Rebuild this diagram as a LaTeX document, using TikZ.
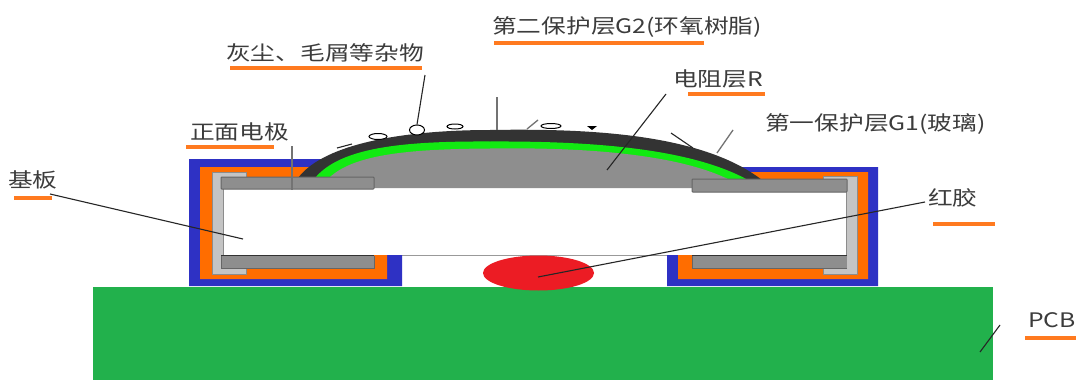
\documentclass[tikz,border=0pt]{standalone}
\usepackage{graphicx}
\usepackage{fontspec}
\usetikzlibrary{shapes.geometric}
\setmainfont{Noto Sans CJK SC}
\definecolor{pcbgreen}{HTML}{22B14C}
\definecolor{bluecap}{HTML}{2E31C4}
\definecolor{orangein}{HTML}{FF6D00}
\definecolor{lightg}{HTML}{C4C4C4}
\definecolor{midg}{HTML}{8E8E8E}
\definecolor{glass}{HTML}{12EA12}
\definecolor{epoxy}{HTML}{333333}
\definecolor{glue}{HTML}{EC1C24}
\definecolor{uline}{HTML}{FF7A1F}
\definecolor{txt}{HTML}{3C3C3C}
\newcommand\widetxt[1]{\scalebox{1.235}[1]{#1}}
\tikzset{
  lbl/.style={anchor=west,inner sep=0pt,text=txt,font=\fontsize{20}{20}\selectfont},
  under/.style={draw=uline,line width=3.6pt},
  leader/.style={draw=black!85,line width=1.1pt},
  leadg/.style={draw=black!55,line width=1.3pt},
  metal/.style={fill=midg,draw=black!60,line width=1pt,rounded corners=0.8pt},
  silver/.style={fill=lightg,draw=black!45,line width=0.8pt},
  dust/.style={ellipse,draw=black,fill=white,line width=1pt,inner sep=0pt},
}
\begin{document}
\begin{tikzpicture}[x=1pt,y=-1pt]
\useasboundingbox (0,0) rectangle (1076,380);
\fill[white] (0,0) rectangle (1076,380);
% PCB
\fill[pcbgreen] (93,287) rectangle (993,380);
% substrate
\fill[white] (223,188) rectangle (847,255);
\draw[black!40,line width=1pt] (387,255.5) -- (680,255.5);
% left cap
\fill[bluecap] (189,159) -- (335,159) -- (335,185) -- (223,185) -- (223,255) -- (402,255) -- (402,286) -- (189,286) -- cycle;
\fill[orangein] (200,167) -- (335,167) -- (335,185) -- (223,185) -- (223,255) -- (387,255) -- (387,279) -- (200,279) -- cycle;
\draw[silver] (246,172) -- (212,172) -- (212,274) -- (246,274) -- (246,266) -- (223,266) -- (223,178) -- (246,178) -- cycle;
% right cap
\fill[bluecap] (740,167) -- (878,167) -- (878,286) -- (667,286) -- (667,255) -- (847,255) -- (847,187) -- (740,187) -- cycle;
\fill[orangein] (740,172) -- (868,172) -- (868,279) -- (678,279) -- (678,255) -- (847,255) -- (847,187) -- (740,187) -- cycle;
\draw[silver] (823,176) -- (857,176) -- (857,274) -- (823,274) -- (823,268) -- (846,268) -- (846,182) -- (823,182) -- cycle;
% dome
\fill[epoxy] (298,178) .. controls (325,142) and (410,130) .. (490,130) .. controls (600,128) and (705,136) .. (762,180) -- cycle;
\fill[glass] (315,178) .. controls (340,148) and (400,141) .. (490,141.5) .. controls (590,141) and (690,148) .. (748,180) -- cycle;
\fill[midg] (327,180) .. controls (350,155) and (405,149) .. (490,148.5) .. controls (590,147) and (680,155) .. (730,180) -- (730,188) -- (327,188) -- cycle;
% electrodes
\draw[metal] (221,177) rectangle (374,189);
\draw[metal] (692,179) rectangle (847,192);
\fill[midg] (221,256) rectangle (374,268);
\draw[black!60,line width=1pt] (221,256) -- (221,268) -- (374,268) -- (374,256);
\draw[black!80,line width=1.3pt] (221,255.5) -- (374,255.5);
\fill[midg] (692,256) rectangle (847,268);
\draw[black!60,line width=1pt] (847,268) -- (692,268) -- (692,256);
\draw[black!80,line width=1.3pt] (692,255.5) -- (847,255.5);
% glue
\node[ellipse,fill=glue,minimum width=111pt,minimum height=35pt,inner sep=0pt] (redglue) at (538.5,273) {};
% debris
\node[dust,minimum width=15pt,minimum height=10pt] (d1) at (417,130) {};
\node[dust,minimum width=18pt,minimum height=6pt] (d2) at (378,136.5) {};
\node[dust,minimum width=16pt,minimum height=5pt] (d3) at (455,126.5) {};
\node[dust,minimum width=20pt,minimum height=5pt] (d4) at (551,126) {};
\fill[black] (587,126) -- (597,126) -- (592,130) -- cycle;
\coordinate (s1a) at (337,148); \coordinate (s1b) at (352,144);
\draw[leader] (s1a) -- (s1b);
\coordinate (s2a) at (527,129); \coordinate (s2b) at (538,120);
\draw[leadg] (s2a) -- (s2b);
\coordinate (s3a) at (671,133); \coordinate (s3b) at (693,148);
\draw[leader] (s3a) -- (s3b);
% labels
\node[lbl] (tdust) at (226,53) {\widetxt{灰尘、毛屑等杂物}};
\node[lbl] (tg2) at (492,27) {\widetxt{第二保护层G2(环氧树脂)}};
\node[lbl] (tr) at (673,79) {\widetxt{电阻层R}};
\node[lbl] (tg1) at (765,124) {\widetxt{第一保护层G1(玻璃)}};
\node[lbl] (telec) at (190,132) {\widetxt{正面电极}};
\node[lbl] (tsub) at (8,180) {\widetxt{基板}};
\node[lbl] (tglue) at (928,198) {\widetxt{红胶}};
\node[lbl] (tpcb) at (1028,320) {\widetxt{PCB}};
% underlines
\draw[under] (230,68) -- (422,68);
\draw[under] (494,43) -- (704,43);
\draw[under] (688,94) -- (765,94);
\draw[under] (186,147) -- (274,147);
\draw[under] (14,198) -- (52,198);
\draw[under] (933,224) -- (995,224);
\draw[under] (1025,338) -- (1076,338);
% leaders
\coordinate (lsubA) at (50,194); \coordinate (lsubB) at (243,239);
\draw[leader] (lsubA) -- (lsubB);
\coordinate (ldustA) at (425,75);
\draw[leader] (ldustA) -- (d1.north);
\coordinate (lg2A) at (497,97); \coordinate (lg2B) at (497,130);
\draw[leadg] (lg2A) -- (lg2B);
\coordinate (lrA) at (666,94); \coordinate (lrB) at (607,170);
\draw[leader] (lrA) -- (lrB);
\coordinate (lg1A) at (733,130); \coordinate (lg1B) at (717,153);
\draw[leadg] (lg1A) -- (lg1B);
\coordinate (lelA) at (292,146); \coordinate (lelB) at (292,190);
\draw[leadg] (lelA) -- (lelB);
\coordinate (lglA) at (925,202); \coordinate (lglB) at (538,277);
\draw[leader] (lglA) -- (lglB);
\coordinate (lpA) at (1000,325); \coordinate (lpB) at (980,352);
\draw[leader] (lpA) -- (lpB);
\end{tikzpicture}
\end{document}
